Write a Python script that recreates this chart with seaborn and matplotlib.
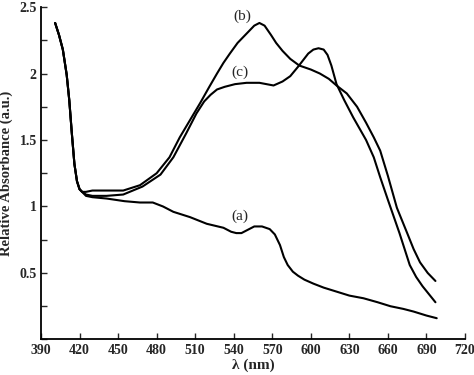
import matplotlib
matplotlib.use("Agg")
import matplotlib.pyplot as plt
import seaborn as sns
import pandas as pd
from matplotlib.ticker import MultipleLocator

# ---- data ----
start_wl = [401, 404, 407, 410, 412, 414, 416, 418, 420, 422]
start_ab = [2.38, 2.29, 2.18, 1.99, 1.80, 1.55, 1.32, 1.19, 1.13, 1.11]

wl_a = [425, 430, 441, 455, 467, 477, 485, 493, 506, 519, 532, 538, 542, 546, 550,
        556, 562, 568, 572, 576, 579, 582, 586, 590, 595, 602, 610, 620, 630, 641,
        652, 662, 672, 680, 690, 698]
ab_a = [1.08, 1.07, 1.06, 1.04, 1.03, 1.03, 1.00, 0.96, 0.92, 0.87, 0.84, 0.81, 0.80,
        0.80, 0.82, 0.85, 0.85, 0.83, 0.79, 0.71, 0.62, 0.56, 0.51, 0.48, 0.45, 0.42,
        0.39, 0.36, 0.33, 0.31, 0.28, 0.25, 0.23, 0.21, 0.18, 0.16]

wl_b = [425, 430, 441, 454, 467, 480, 490, 498, 506, 514, 521, 527, 532, 537, 543,
        550, 556, 560, 564, 569, 573, 578, 584, 591, 600, 607, 614, 620, 628, 636,
        643, 649, 654, 660, 667, 675, 680, 685, 691, 697]
ab_b = [1.11, 1.12, 1.12, 1.12, 1.16, 1.25, 1.37, 1.52, 1.65, 1.78, 1.90, 2.00, 2.08,
        2.15, 2.23, 2.30, 2.36, 2.38, 2.36, 2.29, 2.23, 2.17, 2.11, 2.06, 2.03, 2.00,
        1.96, 1.91, 1.85, 1.75, 1.63, 1.52, 1.42, 1.23, 0.99, 0.80, 0.68, 0.58, 0.50,
        0.44]

wl_c = [425, 430, 441, 454, 469, 483, 493, 503, 511, 517, 522, 527, 533, 541, 550,
        560, 571, 578, 584, 590, 594, 598, 602, 606, 610, 613, 616, 620, 626, 633,
        643, 649, 654, 660, 669, 677, 682, 687, 692, 697]
ab_c = [1.09, 1.08, 1.08, 1.09, 1.15, 1.24, 1.37, 1.55, 1.70, 1.79, 1.84, 1.88, 1.90,
        1.92, 1.93, 1.93, 1.91, 1.94, 1.98, 2.05, 2.10, 2.15, 2.18, 2.19, 2.18, 2.14,
        2.06, 1.92, 1.80, 1.67, 1.50, 1.37, 1.22, 1.05, 0.80, 0.56, 0.47, 0.40, 0.34,
        0.28]

series_names = ["(a)", "(b)", "(c)"]
label_pos = {"(a)": (545, 0.93), "(b)": (547, 2.43), "(c)": (545, 2.01)}

x_ticks = list(range(390, 721, 30))
y_major = [0.5, 1, 1.5, 2, 2.5]

# ---- build long table ----
frames = []
for name, wl, ab in zip(series_names, [wl_a, wl_b, wl_c], [ab_a, ab_b, ab_c]):
    frames.append(pd.DataFrame({"wl": start_wl + wl, "ab": start_ab + ab, "s": name}))
df = pd.concat(frames, ignore_index=True)

sns.set_style("ticks")
plt.rcParams["font.family"] = ["Liberation Serif", "DejaVu Serif"]

fig = plt.figure(figsize=(4.74, 3.75), dpi=100)
ax = fig.add_axes([0.0865, 0.0947, 0.8945, 0.8866])

sns.lineplot(data=df, x="wl", y="ab", units="s", estimator=None, sort=False,
             color="black", linewidth=1.5, ax=ax, legend=False)

ax.set_xlim(390, 720)
ax.set_ylim(0, 2.5)
ax.set_xticks(x_ticks)
ax.set_xticklabels([str(t) for t in x_ticks])
ax.set_yticks(y_major)
ax.set_yticklabels(["0.5", "1", "1.5", "2", "2.5"])
ax.yaxis.set_minor_locator(MultipleLocator(0.25))
ax.tick_params(axis="both", which="both", direction="in", length=4, width=1,
               labelsize=10, pad=3)
for lab in ax.get_xticklabels() + ax.get_yticklabels():
    lab.set_fontweight("bold")

for side in ["top", "right"]:
    ax.spines[side].set_visible(False)
for side in ["left", "bottom"]:
    ax.spines[side].set_linewidth(1.3)
    ax.spines[side].set_color("black")

ax.set_xlabel("λ (nm)", fontsize=11, fontweight="bold", labelpad=1)
ax.set_ylabel("Relative Absorbance (a.u.)", fontsize=10.5, fontweight="bold", labelpad=5)

for name, (x, y) in label_pos.items():
    ax.text(x, y, name, fontsize=11, ha="center", va="center")

fig.savefig("out.png", dpi=100)
